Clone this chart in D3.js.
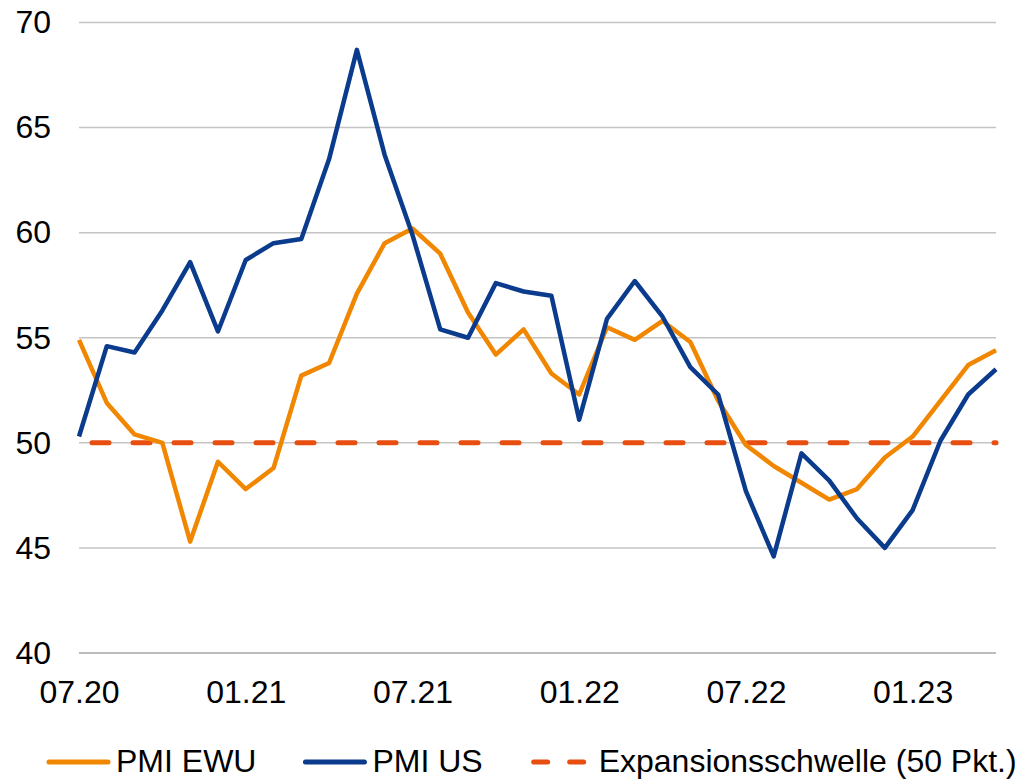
<!DOCTYPE html>
<html>
<head>
<meta charset="utf-8">
<script src="https://cdn.jsdelivr.net/npm/d3@7"></script>
<style>
  body{margin:0;background:#fff;}
  text{font-family:"Liberation Sans",Arial,sans-serif;}
</style>
</head>
<body>
<div id="chart"></div>
<script>
//数据
var months=["07.20","08.20","09.20","10.20","11.20","12.20",
    "01.21","02.21","03.21","04.21","05.21","06.21","07.21","08.21","09.21","10.21","11.21","12.21",
    "01.22","02.22","03.22","04.22","05.22","06.22","07.22","08.22","09.22","10.22","11.22","12.22",
    "01.23","02.23","03.23","04.23"];
var pmiEwu=[54.9,51.9,50.4,50.0,45.3,49.1,47.8,48.8,53.2,53.8,57.1,59.5,60.2,59.0,56.2,54.2,55.4,53.3,
    52.3,55.5,54.9,55.8,54.8,52.0,49.9,48.9,48.1,47.3,47.8,49.3,50.3,52.0,53.7,54.4];
var pmiUs=[50.3,54.6,54.3,56.3,58.6,55.3,58.7,59.5,59.7,63.5,68.7,63.7,59.9,55.4,55.0,57.6,57.2,57.0,
    51.1,55.9,57.7,56.0,53.6,52.3,47.7,44.6,49.5,48.2,46.4,45.0,46.8,50.1,52.3,53.5];
var schwelle=50;
var yTicks=[40,45,50,55,60,65,70];
var xTicks=["07.20","01.21","07.21","01.22","07.22","01.23"];
var legendNames=["PMI EWU","PMI US","Expansionsschwelle (50 Pkt.)"];

var svgwidth=1017,svgheight=779;
var _svg=d3.select("#chart").append("svg")
    .attr("width",svgwidth).attr("height",svgheight);

var cOrange="#F18700",cBlue="#0B3B8C",cRed="#E84E0F";

var x=d3.scalePoint().domain(months).range([79,996]);
var y=d3.scaleLinear().domain([40,70]).range([653,22.5]);

//网格线
_svg.append("g").selectAll("line")
    .data(yTicks).enter().append("line")
    .attr("x1",79).attr("x2",996)
    .attr("y1",function(d){return y(d);})
    .attr("y2",function(d){return y(d);})
    .attr("stroke",function(d){return d==40?"#A6A6A6":"#C4C4C4";})
    .attr("stroke-width",1.5);

//y轴
var gy=_svg.append("g").attr("transform","translate(51,0)");
gy.call(d3.axisLeft(y).tickValues(yTicks).tickSize(0).tickPadding(0));
gy.select(".domain").remove();
gy.selectAll("text").attr("font-size","32px").attr("fill","#000")
    .attr("font-family","'Liberation Sans',Arial,sans-serif");

//x轴
var gx=_svg.append("g").attr("transform","translate(0,653)");
gx.call(d3.axisBottom(x).tickValues(xTicks).tickSize(0).tickPadding(0));
gx.select(".domain").remove();
gx.selectAll("text").attr("font-size","32px").attr("fill","#000")
    .attr("font-family","'Liberation Sans',Arial,sans-serif")
    .attr("dy",null).attr("y",50);

//50线
_svg.append("line")
    .attr("x1",79).attr("x2",996)
    .attr("y1",y(schwelle)).attr("y2",y(schwelle))
    .attr("stroke",cRed).attr("stroke-width",5)
    .attr("stroke-linecap","round")
    .attr("stroke-dasharray","17,24")
    .attr("stroke-dashoffset",28);

var _line=d3.line()
    .x(function(d,i){return x(months[i]);})
    .y(function(d){return y(d);});

_svg.append("path").attr("d",_line(pmiEwu))
    .attr("fill","none").attr("stroke",cOrange).attr("stroke-width",4.5)
    .attr("stroke-linejoin","round");
_svg.append("path").attr("d",_line(pmiUs))
    .attr("fill","none").attr("stroke",cBlue).attr("stroke-width",4.5)
    .attr("stroke-linejoin","round");

//图例
var lg=_svg.append("g");
var lx=49,ly=762;
legendNames.forEach(function(name,i){
    if(i<2){
        lg.append("line").attr("x1",lx).attr("x2",lx+59).attr("y1",ly).attr("y2",ly)
            .attr("stroke",i==0?cOrange:cBlue).attr("stroke-width",5).attr("stroke-linecap","round");
    }else{
        lg.append("line").attr("x1",lx+2).attr("x2",lx+59).attr("y1",ly).attr("y2",ly)
            .attr("stroke",cRed).attr("stroke-width",5).attr("stroke-linecap","round")
            .attr("stroke-dasharray","14,22");
    }
    var t=lg.append("text").attr("x",lx+67).attr("y",ly+10)
        .attr("font-size","32px").attr("fill","#000").text(name);
    lx=lx+67+t.node().getComputedTextLength()+49;
});
</script>
</body>
</html>
